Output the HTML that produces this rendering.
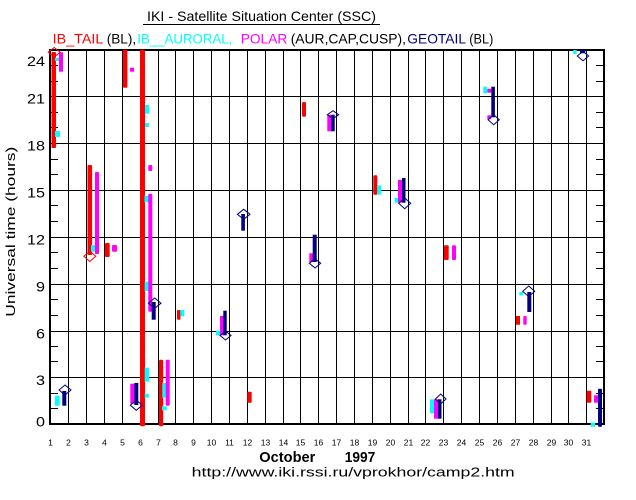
<!DOCTYPE html>
<html><head><meta charset="utf-8"><style>
html,body{margin:0;padding:0;background:#fff;}
svg{display:block;}
text{font-family:"Liberation Sans",Arial,sans-serif;}
</style></head><body>
<svg width="636" height="500" viewBox="0 0 636 500" xmlns="http://www.w3.org/2000/svg">
<rect x="0" y="0" width="636" height="500" fill="#fff"/>
<!-- Title -->
<text x="261.5" y="21" font-size="14" text-anchor="middle" textLength="229" lengthAdjust="spacingAndGlyphs" fill="#000">IKI - Satellite Situation Center (SSC)</text>
<line x1="143" y1="24.5" x2="380" y2="24.5" stroke="#000" stroke-width="1"/>
<!-- Subtitle -->
<g font-size="14">
<text x="52.7" y="43.5" fill="#ff0000" textLength="50.6" lengthAdjust="spacingAndGlyphs">IB_TAIL</text>
<text x="106.7" y="43.5" fill="#000" textLength="29.5" lengthAdjust="spacingAndGlyphs">(BL),</text>
<text x="137.3" y="43.5" fill="#00ffff" textLength="95" lengthAdjust="spacingAndGlyphs">IB__AURORAL,</text>
<text x="240.7" y="43.5" fill="#ff00ff" textLength="46.6" lengthAdjust="spacingAndGlyphs">POLAR</text>
<text x="290.7" y="43.5" fill="#000" textLength="115.3" lengthAdjust="spacingAndGlyphs">(AUR,CAP,CUSP),</text>
<text x="407.3" y="43.5" fill="#000080" textLength="58.7" lengthAdjust="spacingAndGlyphs">GEOTAIL</text>
<text x="469.3" y="43.5" fill="#000" textLength="24" lengthAdjust="spacingAndGlyphs">(BL)</text>
</g>

<!-- Grid -->
<g stroke="#000" stroke-width="1" shape-rendering="crispEdges">
<line x1="68.5" y1="50" x2="68.5" y2="424"/>
<line x1="86.5" y1="50" x2="86.5" y2="424"/>
<line x1="104.5" y1="50" x2="104.5" y2="424"/>
<line x1="122.5" y1="50" x2="122.5" y2="424"/>
<line x1="140.5" y1="50" x2="140.5" y2="424"/>
<line x1="158.5" y1="50" x2="158.5" y2="424"/>
<line x1="175.5" y1="50" x2="175.5" y2="424"/>
<line x1="193.5" y1="50" x2="193.5" y2="424"/>
<line x1="211.5" y1="50" x2="211.5" y2="424"/>
<line x1="229.5" y1="50" x2="229.5" y2="424"/>
<line x1="247.5" y1="50" x2="247.5" y2="424"/>
<line x1="265.5" y1="50" x2="265.5" y2="424"/>
<line x1="283.5" y1="50" x2="283.5" y2="424"/>
<line x1="300.5" y1="50" x2="300.5" y2="424"/>
<line x1="318.5" y1="50" x2="318.5" y2="424"/>
<line x1="336.5" y1="50" x2="336.5" y2="424"/>
<line x1="354.5" y1="50" x2="354.5" y2="424"/>
<line x1="372.5" y1="50" x2="372.5" y2="424"/>
<line x1="390.5" y1="50" x2="390.5" y2="424"/>
<line x1="408.5" y1="50" x2="408.5" y2="424"/>
<line x1="425.5" y1="50" x2="425.5" y2="424"/>
<line x1="443.5" y1="50" x2="443.5" y2="424"/>
<line x1="461.5" y1="50" x2="461.5" y2="424"/>
<line x1="479.5" y1="50" x2="479.5" y2="424"/>
<line x1="497.5" y1="50" x2="497.5" y2="424"/>
<line x1="515.5" y1="50" x2="515.5" y2="424"/>
<line x1="533.5" y1="50" x2="533.5" y2="424"/>
<line x1="551.5" y1="50" x2="551.5" y2="424"/>
<line x1="568.5" y1="50" x2="568.5" y2="424"/>
<line x1="586.5" y1="50" x2="586.5" y2="424"/>
<!-- horizontal -->
<line x1="50" y1="96.5" x2="604" y2="96.5"/>
<line x1="50" y1="143.5" x2="604" y2="143.5"/>
<line x1="50" y1="190.5" x2="604" y2="190.5"/>
<line x1="50" y1="237.5" x2="604" y2="237.5"/>
<line x1="50" y1="284.5" x2="604" y2="284.5"/>
<line x1="50" y1="331.5" x2="604" y2="331.5"/>
<line x1="50" y1="377.5" x2="604" y2="377.5"/>
<!-- minor ticks left -->
<path d="M50 408.5H58M50 393.5H58M50 361.5H58M50 346.5H58M50 315.5H58M50 299.5H58M50 268.5H58M50 252.5H58M50 221.5H58M50 205.5H58M50 174.5H58M50 159.5H58M50 127.5H58M50 112.5H58M50 81.5H58M50 65.5H58"/>
<path d="M596 408.5H604M596 393.5H604M596 361.5H604M596 346.5H604M596 315.5H604M596 299.5H604M596 268.5H604M596 252.5H604M596 221.5H604M596 205.5H604M596 174.5H604M596 159.5H604M596 127.5H604M596 112.5H604M596 81.5H604M596 65.5H604"/>
</g>
<!-- frame -->
<g fill="#000" shape-rendering="crispEdges">
<rect x="49" y="49" width="556" height="2"/>
<rect x="49" y="423" width="556" height="2"/>
<rect x="49" y="49" width="2" height="376"/>
<rect x="603" y="49" width="2" height="376"/>
</g>

<!-- Data: red -->
<g fill="#ff0000">
<rect x="51.5" y="52" width="4.5" height="96" rx="1"/>
<rect x="87.5" y="165" width="4.6" height="90" rx="1"/>
<rect x="105" y="243" width="4.7" height="14" rx="1"/>
<rect x="123" y="49.7" width="4.4" height="38" rx="1"/>
<rect x="140" y="49.7" width="5" height="376.5" rx="1.5"/>
<rect x="159" y="359.7" width="4.2" height="66.6" rx="1.5"/>
<rect x="177" y="310" width="3.5" height="9.7" rx="1"/>
<rect x="247.3" y="391.7" width="4.4" height="11" rx="1"/>
<rect x="302" y="102" width="4" height="14.7" rx="1.5"/>
<rect x="373.3" y="175.3" width="4" height="19.4" rx="1"/>
<rect x="444" y="245.3" width="4.7" height="14.7" rx="1"/>
<rect x="516" y="316" width="4" height="8.7"/>
<rect x="586.7" y="390.7" width="4.6" height="12" rx="1"/>
</g>
<!-- cyan -->
<g fill="#00ffff">
<rect x="55" y="57.7" width="4" height="3.3"/>
<rect x="55" y="131" width="5" height="6"/>
<rect x="91" y="245" width="4" height="6.7"/>
<rect x="145" y="105" width="4" height="8.7"/>
<rect x="145" y="123" width="4" height="4"/>
<rect x="144.5" y="195.7" width="4" height="6.6"/>
<rect x="144.7" y="281.7" width="4.3" height="9.3"/>
<rect x="144.7" y="367.7" width="4.3" height="14"/>
<rect x="144.7" y="393.7" width="4" height="4"/>
<rect x="55" y="395.7" width="4.7" height="10"/>
<rect x="162.3" y="383" width="3.6" height="14.7"/>
<rect x="162" y="406.3" width="4.7" height="4"/>
<rect x="180.3" y="310" width="4" height="6.3"/>
<rect x="216" y="330.7" width="4" height="4.6"/>
<rect x="377.3" y="185.3" width="4" height="9.4"/>
<rect x="394.7" y="198" width="3.5" height="4.7"/>
<rect x="430" y="399.3" width="4" height="14"/>
<rect x="483.3" y="86.7" width="4" height="6.6"/>
<rect x="519.3" y="292" width="4" height="3.3"/>
<rect x="573.3" y="50" width="3.4" height="4"/>
<rect x="590.7" y="422.7" width="4.6" height="4"/>
</g>
<!-- magenta -->
<g fill="#ff00ff">
<rect x="59" y="52.3" width="4" height="19.4"/>
<rect x="95" y="172" width="4" height="82" rx="1"/>
<rect x="112" y="245" width="5" height="6.7" rx="1"/>
<rect x="130" y="67.7" width="4" height="4"/>
<rect x="148.3" y="165" width="4" height="6" rx="1"/>
<rect x="148.3" y="193.7" width="4" height="118" rx="1"/>
<rect x="130.3" y="383.7" width="4" height="20"/>
<rect x="165.7" y="359.7" width="4" height="46" rx="1"/>
<rect x="220" y="316" width="4" height="19.3"/>
<rect x="309.3" y="253.3" width="4" height="8.7"/>
<rect x="327.3" y="114.7" width="4" height="16.6"/>
<rect x="398" y="180" width="4" height="22.7"/>
<rect x="452" y="245.3" width="4" height="14.7" rx="1"/>
<rect x="434" y="399.3" width="4" height="19.4"/>
<rect x="487.3" y="88.7" width="4" height="4" rx="1"/>
<rect x="487.3" y="115.3" width="4" height="4" rx="1"/>
<rect x="523.3" y="316" width="3.4" height="8.7" rx="1"/>
<rect x="594" y="395.3" width="4.7" height="7.4"/>
</g>
<!-- navy -->
<g fill="#000080">
<rect x="62.3" y="391" width="4" height="14.7"/>
<rect x="134.3" y="383" width="4" height="22"/>
<rect x="151.7" y="302" width="4" height="17.7"/>
<rect x="223.3" y="310.7" width="3.4" height="24.6"/>
<rect x="241.3" y="214" width="3.6" height="16.7"/>
<rect x="312.7" y="234.7" width="4" height="27.3"/>
<rect x="331.3" y="114.7" width="3.4" height="16.6"/>
<rect x="402" y="178" width="3.5" height="24.7"/>
<rect x="438" y="399.3" width="3.5" height="19.4"/>
<rect x="491.3" y="86.7" width="3.6" height="30.6"/>
<rect x="527.3" y="292" width="4" height="20"/>
<rect x="580" y="50" width="5.3" height="3.3"/>
<rect x="598" y="388.7" width="4" height="38" rx="1"/>
</g>
<!-- diamonds -->
<g fill="none" stroke-width="1">
<path d="M54.2 47.5L60.2 52.2L54.2 57L48.2 52.2Z" stroke="#ff0000"/>
<path d="M89.8 251.3L95.8 256.3L89.8 261.5L83.8 256.3Z" stroke="#ff0000"/>
<g stroke="#000080">
<path d="M65 385L71 390L65 395L59 390Z"/>
<path d="M136.3 400L142.3 405.2L136.3 410.3L130.3 405.2Z"/>
<path d="M154.7 298L161 303.2L154.7 308.3L148.4 303.2Z"/>
<path d="M225.5 331L231 335.5L225.5 340L220 335.5Z"/>
<path d="M243.7 209.3L250 214.3L243.7 219.3L237.4 214.3Z"/>
<path d="M315 258.7L320.7 263.3L315 268L309.3 263.3Z"/>
<path d="M333 110.7L338.7 114.7L333 118.7L327.3 114.7Z"/>
<path d="M404.7 198L410.7 203.3L404.7 208.7L398.7 203.3Z"/>
<path d="M440.7 394L446 399L440.7 404L435.4 399Z"/>
<path d="M493.7 114.7L499.3 119.7L493.7 124.7L488 119.7Z"/>
<path d="M528.7 286L534.7 291.3L528.7 296.7L522.7 291.3Z"/>
<path d="M583 51.3L588.7 56L583 60.7L577.3 56Z"/>
</g>
</g>

<!-- Y tick labels -->
<g font-size="14" text-anchor="end" fill="#000">
<text x="45" y="66" textLength="18" lengthAdjust="spacingAndGlyphs">24</text>
<text x="45" y="103.5" textLength="18" lengthAdjust="spacingAndGlyphs">21</text>
<text x="45" y="150.5" textLength="18" lengthAdjust="spacingAndGlyphs">18</text>
<text x="45" y="197.5" textLength="18" lengthAdjust="spacingAndGlyphs">15</text>
<text x="45" y="244.5" textLength="18" lengthAdjust="spacingAndGlyphs">12</text>
<text x="45" y="291.5" textLength="9" lengthAdjust="spacingAndGlyphs">9</text>
<text x="45" y="338.5" textLength="9" lengthAdjust="spacingAndGlyphs">6</text>
<text x="45" y="385" textLength="9" lengthAdjust="spacingAndGlyphs">3</text>
<text x="45" y="426.5" textLength="9" lengthAdjust="spacingAndGlyphs">0</text>
</g>
<!-- Y axis title -->
<text transform="translate(15,231.7) rotate(-90)" font-size="13" text-anchor="middle" textLength="170" lengthAdjust="spacingAndGlyphs" fill="#000">Universal time (hours)</text>

<!-- X tick labels -->
<g font-size="8.5" text-anchor="middle" fill="#000">
<text x="50.5" y="445.5">1</text>
<text x="68.5" y="445.5">2</text>
<text x="86.5" y="445.5">3</text>
<text x="104.5" y="445.5">4</text>
<text x="122.5" y="445.5">5</text>
<text x="140.5" y="445.5">6</text>
<text x="158.5" y="445.5">7</text>
<text x="175.5" y="445.5">8</text>
<text x="193.5" y="445.5">9</text>
<text x="211.5" y="445.5">10</text>
<text x="229.5" y="445.5">11</text>
<text x="247.5" y="445.5">12</text>
<text x="265.5" y="445.5">13</text>
<text x="283.5" y="445.5">14</text>
<text x="300.5" y="445.5">15</text>
<text x="318.5" y="445.5">16</text>
<text x="336.5" y="445.5">17</text>
<text x="354.5" y="445.5">18</text>
<text x="372.5" y="445.5">19</text>
<text x="390.5" y="445.5">20</text>
<text x="408.5" y="445.5">21</text>
<text x="425.5" y="445.5">22</text>
<text x="443.5" y="445.5">23</text>
<text x="461.5" y="445.5">24</text>
<text x="479.5" y="445.5">25</text>
<text x="497.5" y="445.5">26</text>
<text x="515.5" y="445.5">27</text>
<text x="533.5" y="445.5">28</text>
<text x="551.5" y="445.5">29</text>
<text x="568.5" y="445.5">30</text>
<text x="586.5" y="445.5">31</text>
</g>
<!-- X axis title -->
<text x="259.3" y="462" font-size="15" font-weight="bold" textLength="56" lengthAdjust="spacingAndGlyphs" fill="#000">October</text>
<text x="344.7" y="462" font-size="15" font-weight="bold" textLength="30.6" lengthAdjust="spacingAndGlyphs" fill="#000">1997</text>
<text x="191.7" y="476.5" font-size="13" textLength="323" lengthAdjust="spacingAndGlyphs" fill="#000">http://www.iki.rssi.ru/vprokhor/camp2.htm</text>
</svg>
</body></html>
